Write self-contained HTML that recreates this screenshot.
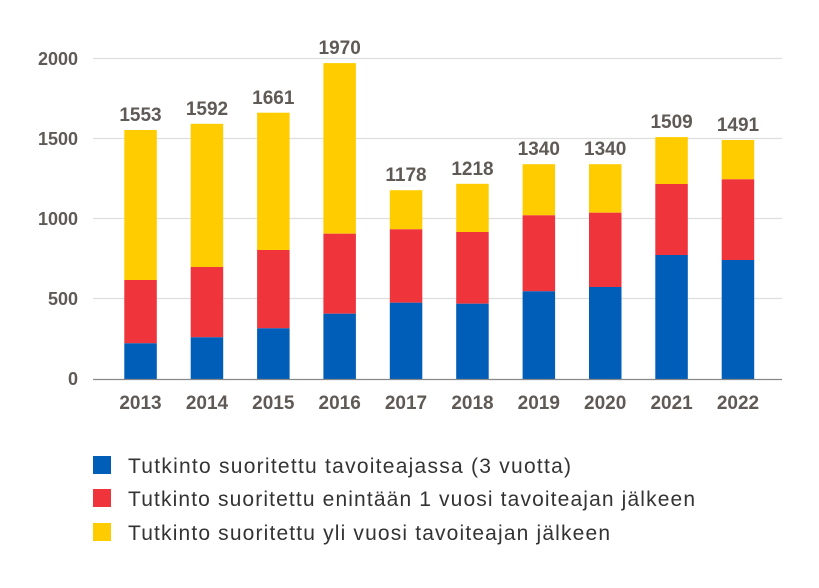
<!DOCTYPE html>
<html><head><meta charset="utf-8"><style>
body{margin:0;background:#fff;}
svg{display:block;font-family:"Liberation Sans",sans-serif;}
</style></head><body>
<svg width="819" height="588" viewBox="0 0 819 588">
<g stroke="#dedede" stroke-width="1.3">
<line x1="93" x2="782" y1="58.5" y2="58.5"/>
<line x1="93" x2="782" y1="138.5" y2="138.5"/>
<line x1="93" x2="782" y1="218.5" y2="218.5"/>
<line x1="93" x2="782" y1="298.5" y2="298.5"/>
</g>
<g font-size="18" font-weight="bold" fill="#5f5a55" text-anchor="end">
<text x="78" y="65">2000</text>
<text x="78" y="145">1500</text>
<text x="78" y="225">1000</text>
<text x="78" y="305">500</text>
<text x="78" y="385">0</text>
</g>
<g>
<rect x="124.3" y="130" width="32.5" height="150" fill="#ffcc00"/><rect x="124.3" y="280" width="32.5" height="63.3" fill="#ef343c"/><rect x="124.3" y="343.3" width="32.5" height="36" fill="#005eb8"/>
<rect x="190.7" y="123.8" width="32.5" height="143.2" fill="#ffcc00"/><rect x="190.7" y="267" width="32.5" height="70.3" fill="#ef343c"/><rect x="190.7" y="337.3" width="32.5" height="42" fill="#005eb8"/>
<rect x="257.1" y="112.7" width="32.5" height="137.3" fill="#ffcc00"/><rect x="257.1" y="250" width="32.5" height="78.3" fill="#ef343c"/><rect x="257.1" y="328.3" width="32.5" height="51" fill="#005eb8"/>
<rect x="323.4" y="63.1" width="32.5" height="170.6" fill="#ffcc00"/><rect x="323.4" y="233.7" width="32.5" height="80" fill="#ef343c"/><rect x="323.4" y="313.7" width="32.5" height="65.6" fill="#005eb8"/>
<rect x="389.8" y="190.2" width="32.5" height="39.1" fill="#ffcc00"/><rect x="389.8" y="229.3" width="32.5" height="73.4" fill="#ef343c"/><rect x="389.8" y="302.7" width="32.5" height="76.6" fill="#005eb8"/>
<rect x="456.2" y="183.8" width="32.5" height="48.2" fill="#ffcc00"/><rect x="456.2" y="232" width="32.5" height="71.7" fill="#ef343c"/><rect x="456.2" y="303.7" width="32.5" height="75.6" fill="#005eb8"/>
<rect x="522.6" y="164.2" width="32.5" height="51.1" fill="#ffcc00"/><rect x="522.6" y="215.3" width="32.5" height="76" fill="#ef343c"/><rect x="522.6" y="291.3" width="32.5" height="88" fill="#005eb8"/>
<rect x="589" y="164.2" width="32.5" height="48.5" fill="#ffcc00"/><rect x="589" y="212.7" width="32.5" height="74.3" fill="#ef343c"/><rect x="589" y="287" width="32.5" height="92.3" fill="#005eb8"/>
<rect x="655.3" y="137.1" width="32.5" height="46.9" fill="#ffcc00"/><rect x="655.3" y="184" width="32.5" height="71" fill="#ef343c"/><rect x="655.3" y="255" width="32.5" height="124.3" fill="#005eb8"/>
<rect x="721.7" y="140" width="32.5" height="39.3" fill="#ffcc00"/><rect x="721.7" y="179.3" width="32.5" height="80.7" fill="#ef343c"/><rect x="721.7" y="260" width="32.5" height="119.3" fill="#005eb8"/>
</g>
<g font-size="19" font-weight="bold" fill="#5f5a55" text-anchor="middle">
<text x="140.5" y="121">1553</text>
<text x="207" y="115">1592</text>
<text x="273.3" y="104">1661</text>
<text x="339.7" y="54">1970</text>
<text x="406" y="181">1178</text>
<text x="472.5" y="175">1218</text>
<text x="538.8" y="155">1340</text>
<text x="605.2" y="155">1340</text>
<text x="671.6" y="128">1509</text>
<text x="738" y="131">1491</text>
</g>
<g font-size="19" font-weight="bold" fill="#5f5a55" text-anchor="middle">
<text x="140.5" y="409">2013</text>
<text x="207" y="409">2014</text>
<text x="273.3" y="409">2015</text>
<text x="339.7" y="409">2016</text>
<text x="406" y="409">2017</text>
<text x="472.5" y="409">2018</text>
<text x="538.8" y="409">2019</text>
<text x="605.2" y="409">2020</text>
<text x="671.6" y="409">2021</text>
<text x="738" y="409">2022</text>
</g>
<line x1="93" x2="782" y1="379.5" y2="379.5" stroke="#888" stroke-width="1.3"/>
<g font-size="21" fill="#333">
<rect x="93" y="456" width="18" height="18" fill="#005eb8"/>
<text x="128" y="473" textLength="443" lengthAdjust="spacing">Tutkinto suoritettu tavoiteajassa (3 vuotta)</text>
<rect x="93" y="489" width="18" height="18" fill="#ef343c"/>
<text x="128" y="506" textLength="567" lengthAdjust="spacing">Tutkinto suoritettu enintään 1 vuosi tavoiteajan jälkeen</text>
<rect x="93" y="523" width="18" height="18" fill="#ffcc00"/>
<text x="128" y="540" textLength="482" lengthAdjust="spacing">Tutkinto suoritettu yli vuosi tavoiteajan jälkeen</text>
</g>
</svg>
</body></html>
